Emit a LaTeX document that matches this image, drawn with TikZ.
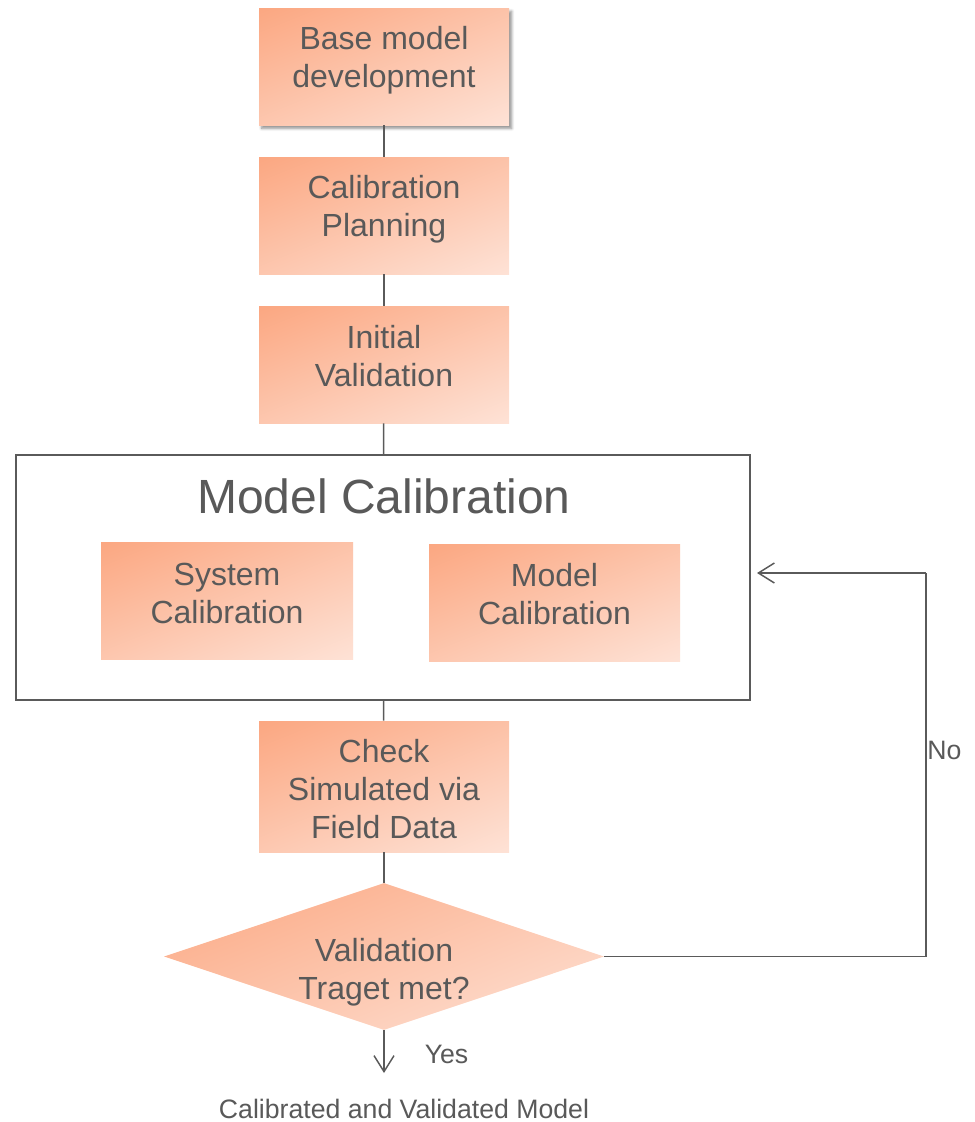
\documentclass[tikz,border=0pt]{standalone}
\usepackage{fontspec}
\setmainfont{Liberation Sans}
\usetikzlibrary{arrows.meta,shapes.geometric,shadows.blur}
\definecolor{txtgray}{HTML}{595959}
\definecolor{linegray}{HTML}{5A5A5A}
\definecolor{orA}{HTML}{FBA27A}
\definecolor{orB}{HTML}{FEE7DD}
\pgfdeclareverticalshading{peach}{100bp}{color(0bp)=(orB); color(12bp)=(orB); color(88bp)=(orA); color(100bp)=(orA)}
\tikzset{
  grad/.style={shading=peach, shading angle=22, draw=none, inner sep=0pt},
  pbox/.style={grad, rectangle, minimum width=187.5pt, minimum height=87.75pt},
  btxt/.style={text=txtgray, align=center, font=\fontsize{24}{28.5}\selectfont, inner sep=0pt},
  stxt/.style={text=txtgray, font=\fontsize{20}{23}\selectfont, inner sep=0pt},
  conn/.style={draw=linegray, line width=1.1pt},
  arr/.style={conn, -{Straight Barb[length=12pt,width=15pt,line width=1.1pt]}},
}
\begin{document}
\begin{tikzpicture}[x=0.75pt,y=-0.75pt]
\useasboundingbox (0,0) rectangle (975,1122);
% outer frame
\node[draw=linegray, line width=1.1pt, fill=white, minimum width=550.5pt, minimum height=183.75pt, inner sep=0pt] (frame) at (383,577.5) {};
% boxes
\node[pbox, blur shadow={shadow xshift=2pt, shadow yshift=-2.5pt, shadow blur steps=6, shadow opacity=45}] (b1) at (384,66.5) {};
\node[pbox] (b2) at (384,215.5) {};
\node[pbox] (b3) at (384,364.5) {};
\node[grad, minimum width=189pt, minimum height=87.75pt] (sc) at (227,600.5) {};
\node[grad, minimum width=188.25pt, minimum height=87.75pt] (mc) at (554.5,602.5) {};
\node[pbox, minimum height=98.25pt] (chk) at (384,786.5) {};
\node[grad, diamond, aspect=3, minimum width=330pt, minimum height=110.25pt] (dia) at (384,956.5) {};
% texts
\node[btxt] (t1) at (384,60.5) {Base model\\development};
\node[btxt] (t2) at (384,209.5) {Calibration\\Planning};
\node[btxt] (t3) at (384,356) {Initial\\Validation};
\node[text=txtgray, font=\fontsize{36}{40}\selectfont, inner sep=0pt] (title) at (384,496) {Model Calibration};
\node[btxt] (tsc) at (227,593) {System\\Calibration};
\node[btxt] (tmc) at (554.5,594) {Model\\Calibration};
\node[btxt] (tchk) at (384,789) {Check\\Simulated via\\Field Data};
\node[btxt] (tdia) at (384,972.5) {Validation\\Traget met?};
\node[stxt] (yes) at (446.5,1054) {Yes};
\node[stxt] (final) at (404,1109) {Calibrated and Validated Model};
\node[stxt, anchor=west] (no) at (927,750) {No};
% connectors
\draw[conn] (b1) -- (b2);
\draw[conn] (b2) -- (b3);
\draw[conn] (b3) -- (frame);
\draw[conn] (frame) -- (chk);
\draw[conn] (chk) -- (dia);
\coordinate (endp) at (384,1073);
\draw[arr] (dia.south) -- (endp);
\coordinate (corner) at (926,573);
\coordinate (ntip) at (757,573);
\draw[conn] (dia.east) -| (corner);
\draw[arr] (corner) -- (ntip);
\end{tikzpicture}
\end{document}
